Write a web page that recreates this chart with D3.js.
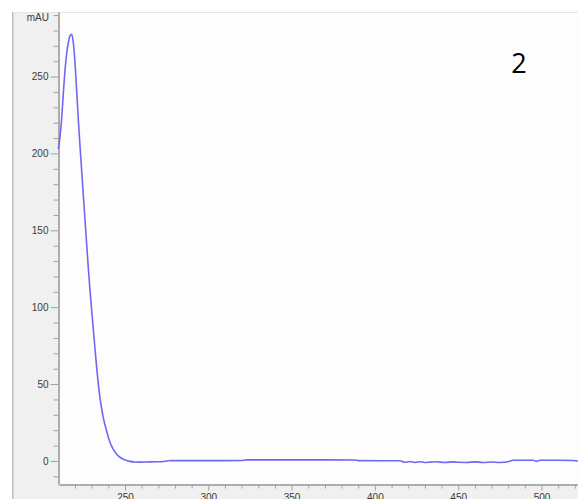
<!DOCTYPE html>
<html>
<head>
<meta charset="utf-8">
<script src="https://cdn.jsdelivr.net/npm/d3@7"></script>
<style>
  html, body { margin: 0; padding: 0; background: #ffffff; }
  svg { display: block; }
</style>
</head>
<body>
<svg id="chart" width="578" height="499"></svg>
<script>
// UV absorbance spectrum: wavelength (nm) vs absorbance (mAU)
const wavelengths = [210, 211, 212, 213, 214, 215, 216, 217, 218, 219, 220, 221, 222, 223, 224, 225, 226, 227, 228, 229, 230, 231, 232, 233, 234, 235, 236, 237, 238, 239, 240, 241, 242, 243, 245, 247, 249, 251, 253, 256, 259, 265, 272, 276, 278, 300, 320, 323, 350, 388, 390, 415, 418, 421, 424, 427, 430, 433, 437, 442, 447, 450, 455, 460, 465, 470, 475, 480, 483, 490, 495, 497, 499, 510, 519, 522];
const absorbance = [203, 211, 223, 239, 254, 265, 272, 276.5, 277.5, 272, 259, 241, 222, 205, 189, 173, 157, 141, 125.5, 111, 98, 85.5, 73, 61, 50, 41, 34, 28, 23.5, 19.5, 15.5, 12.2, 9.6, 7.5, 4.4, 2.4, 1.1, 0.3, -0.3, -0.7, -0.8, -0.6, -0.5, 0.1, 0.2, 0.2, 0.3, 0.7, 0.7, 0.6, 0.2, 0.1, -0.9, -0.4, -1.0, -0.5, -1.0, -0.8, -0.5, -1.0, -0.6, -0.9, -1.0, -0.6, -1.0, -0.7, -1.0, -0.5, 0.4, 0.4, 0.4, -0.3, 0.4, 0.4, 0.3, -0.1];

const xMajorTicks = [250, 300, 350, 400, 450, 500];
const xMinorTicks = d3.range(220, 521, 10);
const yMajorTicks = [0, 50, 100, 150, 200, 250];
const yMinorTicks = d3.range(-10, 291, 10);
const yUnitLabel = "mAU";
const panelLabel = "2";

const svg = d3.select("#chart");
const plot = { left: 59, right: 578, top: 12, bottom: 484 };

const x = d3.scaleLinear().domain([210.4, 521.9]).range([plot.left, plot.right]);
const y = d3.scaleLinear().domain([-15, 292]).range([plot.bottom, plot.top]);

// Window background and left frame edge
svg.append("rect").attr("x", 13).attr("y", plot.top).attr("width", 578 - 13).attr("height", 499 - plot.top)
  .attr("fill", "#f0f0f0");
svg.append("rect").attr("x", 12).attr("y", plot.top).attr("width", 1.5).attr("height", 499 - plot.top)
  .attr("fill", "#bdbdbd");

// Plot area
svg.append("rect").attr("x", plot.left).attr("y", plot.top)
  .attr("width", plot.right - plot.left).attr("height", plot.bottom - plot.top)
  .attr("fill", "#fdfdfd");
svg.append("line").attr("x1", 13).attr("x2", 578).attr("y1", plot.top + 0.5).attr("y2", plot.top + 0.5)
  .attr("stroke", "#e4e4e4");

// Y axis: major ticks with labels, minor ticks between
const yAxis = svg.append("g").attr("transform", `translate(${plot.left - 0.5},0)`)
  .call(d3.axisLeft(y).tickValues(yMajorTicks).tickSize(8).tickPadding(2).tickSizeOuter(0));
const yMinor = svg.append("g").attr("transform", `translate(${plot.left - 0.5},0)`)
  .call(d3.axisLeft(y).tickValues(yMinorTicks.filter(v => !yMajorTicks.includes(v))).tickSize(5).tickFormat("").tickSizeOuter(0));

// X axis (labels sit at the bottom edge of the window)
const xAxis = svg.append("g").attr("transform", `translate(0,${plot.bottom + 0.5})`)
  .call(d3.axisBottom(x).tickValues(xMajorTicks).tickSize(6).tickPadding(3).tickSizeOuter(0));
const xMinor = svg.append("g").attr("transform", `translate(0,${plot.bottom + 0.5})`)
  .call(d3.axisBottom(x).tickValues(xMinorTicks.filter(v => !xMajorTicks.includes(v))).tickSize(4).tickFormat("").tickSizeOuter(0));

[yAxis, yMinor, xAxis, xMinor].forEach(g => {
  g.select(".domain").attr("stroke", "#a8a8a8").attr("stroke-width", 1.5);
  g.selectAll(".tick line").attr("stroke", "#a0a0a0");
  g.selectAll(".tick text").attr("fill", "#3a3a3a")
    .style("font-family", "'Liberation Sans', Arial, sans-serif").style("font-size", "10px");
});

// Unit label at the top of the y axis
svg.append("text").attr("x", 49).attr("y", 21).attr("text-anchor", "end")
  .attr("fill", "#3a3a3a").style("font-family", "'Liberation Sans', Arial, sans-serif").style("font-size", "10px")
  .text(yUnitLabel);

// Spectrum trace
const line = d3.line().x((d, i) => x(wavelengths[i])).y(d => y(d)).curve(d3.curveMonotoneX);
svg.append("path").datum(absorbance)
  .attr("d", line)
  .attr("fill", "none")
  .attr("stroke", "#6f68f2")
  .attr("stroke-width", 1.6)
  .attr("stroke-linejoin", "round");

// Panel number
svg.append("text").attr("x", 519).attr("y", 73).attr("text-anchor", "middle")
  .attr("fill", "#000").style("font-family", "'Open Sans', 'Noto Sans', sans-serif").style("font-size", "27px")
  .text(panelLabel);
</script>
</body>
</html>
